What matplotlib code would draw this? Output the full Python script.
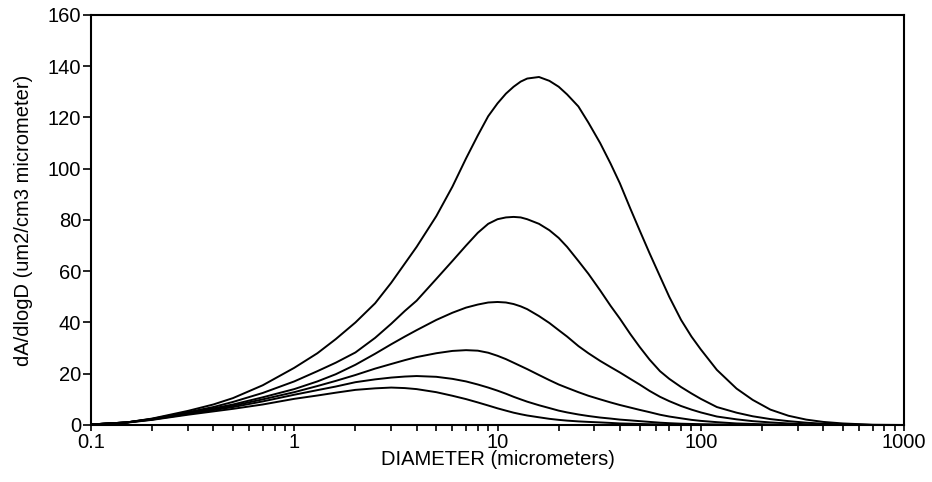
import numpy as np
import matplotlib
matplotlib.use('Agg')
import matplotlib.pyplot as plt
from matplotlib.ticker import FixedLocator, FixedFormatter, NullFormatter

plt.rcParams['font.family'] = ['Liberation Sans', 'DejaVu Sans']

# Particle diameter grid (micrometers)
diameter = [0.1, 0.15, 0.2, 0.3, 0.4, 0.5, 0.7,
            1, 1.3, 1.6, 2, 2.5, 3, 3.5, 4, 5, 6, 7, 8, 9,
            10, 11, 12, 13, 14, 16, 18, 20, 22, 25, 28, 32, 36, 40, 45, 50,
            56, 63, 70, 80, 90,
            100, 120, 150, 180, 220, 270, 330, 400, 500, 700, 1000]

# Surface area distributions dA/dlogD, largest to smallest
dist_a = [0.2, 1.0, 2.5, 5.5, 8.0, 10.5, 15.5,
          22.3, 28.0, 33.5, 40.0, 47.5, 55.5, 63.0, 69.5, 81.5, 93.0, 104.0,
          113.0, 120.5,
          125.5, 129.3, 132.0, 134.0, 135.2, 135.8, 134.3, 132.0, 129.0,
          124.3, 118.0, 110.0, 102.0, 94.3, 84.5, 76.0, 67.0, 58.0, 50.0,
          41.0, 34.5,
          29.5, 21.5, 14.2, 9.8, 6.0, 3.6, 2.1, 1.2, 0.6, 0.1, 0.0]
dist_b = [0.2, 1.0, 2.4, 5.0, 7.0, 9.0, 12.5,
          17.0, 21.0, 24.3, 28.3, 34.0, 39.5, 44.5, 48.5, 57.0, 64.0, 70.0,
          75.0, 78.5,
          80.3, 81.0, 81.2, 81.0, 80.3, 78.5, 76.0, 73.0, 69.5, 64.0, 59.0,
          52.5, 46.5, 41.5, 35.5, 30.5, 25.5, 21.0, 18.0, 14.8, 12.3,
          10.2, 7.0, 4.8, 3.4, 2.3, 1.5, 0.9, 0.5, 0.2, 0.0, 0.0]
dist_c = [0.2, 1.0, 2.3, 4.8, 6.5, 8.0, 10.8,
          14.0, 17.0, 19.8, 23.5, 27.8, 31.5, 34.5, 37.0, 41.0, 43.8, 45.8,
          47.0, 47.8,
          48.0, 47.8, 47.2, 46.3, 45.2, 42.5, 39.8, 37.0, 34.5, 30.8, 28.0,
          25.0, 22.6, 20.5, 18.0, 15.8, 13.3, 11.0, 9.3, 7.4, 6.0,
          4.9, 3.3, 2.2, 1.5, 1.0, 0.6, 0.3, 0.2, 0.1, 0.0, 0.0]
dist_d = [0.2, 1.0, 2.2, 4.5, 6.1, 7.5, 10.0,
          12.8, 15.2, 17.2, 19.5, 22.0, 23.8, 25.3, 26.5, 28.0, 28.9, 29.2,
          29.0, 28.2,
          27.0, 25.7, 24.3, 23.0, 21.8, 19.5, 17.5, 15.8, 14.5, 12.8, 11.4,
          10.0, 8.8, 7.8, 6.8, 5.9, 5.0, 4.0, 3.3, 2.6, 2.0,
          1.6, 1.1, 0.6, 0.4, 0.2, 0.1, 0.0, 0.0, 0.0, 0.0, 0.0]
dist_e = [0.2, 1.0, 2.1, 4.3, 5.8, 7.0, 9.2,
          11.8, 13.6, 15.0, 16.7, 17.8, 18.5, 18.9, 19.1, 18.8, 18.0, 17.0,
          15.8, 14.6,
          13.4, 12.2, 11.0, 10.0, 9.1, 7.7, 6.6, 5.6, 4.9, 4.1, 3.5, 2.9,
          2.5, 2.1, 1.8, 1.5, 1.2, 0.9, 0.7, 0.5, 0.4,
          0.3, 0.2, 0.1, 0.0, 0.0, 0.0, 0.0, 0.0, 0.0, 0.0, 0.0]
dist_f = [0.2, 0.9, 2.0, 4.0, 5.3, 6.3, 8.0,
          10.2, 11.5, 12.6, 13.7, 14.3, 14.6, 14.4, 14.0, 12.8, 11.4, 10.1,
          8.8, 7.6,
          6.5, 5.6, 4.8, 4.2, 3.7, 3.0, 2.4, 2.0, 1.7, 1.4, 1.2, 1.0, 0.8,
          0.6, 0.5, 0.4, 0.3, 0.25, 0.2, 0.15, 0.1,
          0.1, 0.05, 0.0, 0.0, 0.0, 0.0, 0.0, 0.0, 0.0, 0.0, 0.0]

x_ticks = [0.1, 1, 10, 100, 1000]
x_tick_labels = ['0.1', '1', '10', '100', '1000']
y_ticks = [0, 20, 40, 60, 80, 100, 120, 140, 160]

fig = plt.figure(figsize=(9.32, 4.82), dpi=100)
ax = fig.add_axes([0.0976, 0.1183, 0.8724, 0.8506])

for dist in [dist_a, dist_b, dist_c, dist_d, dist_e, dist_f]:
    ax.plot(diameter, dist, color='black', linewidth=1.4,
            solid_joinstyle='round')

ax.set_xscale('log')
ax.set_xlim(0.1, 1000)
ax.set_ylim(0, 160)

ax.xaxis.set_major_locator(FixedLocator(x_ticks))
ax.xaxis.set_major_formatter(FixedFormatter(x_tick_labels))
minor = [m * 10.0 ** e for e in range(-1, 3) for m in range(2, 10)]
ax.xaxis.set_minor_locator(FixedLocator(minor))
ax.xaxis.set_minor_formatter(NullFormatter())
ax.set_yticks(y_ticks)

ax.tick_params(axis='x', which='both', direction='out', length=4, width=1.2,
               labelsize=14.5, pad=1.5, top=False)
ax.tick_params(axis='y', which='major', direction='out', length=6, width=1.2,
               labelsize=14.5, pad=1, right=False)

for spine in ax.spines.values():
    spine.set_linewidth(1.5)

ax.set_xlabel('DIAMETER (micrometers)', fontsize=14.5)
ax.set_ylabel('dA/dlogD (um2/cm3 micrometer)', fontsize=14.5)
ax.xaxis.set_label_coords(0.5, -0.062)
ax.yaxis.set_label_coords(-0.071, 0.5)

fig.savefig('out.png', dpi=100)
